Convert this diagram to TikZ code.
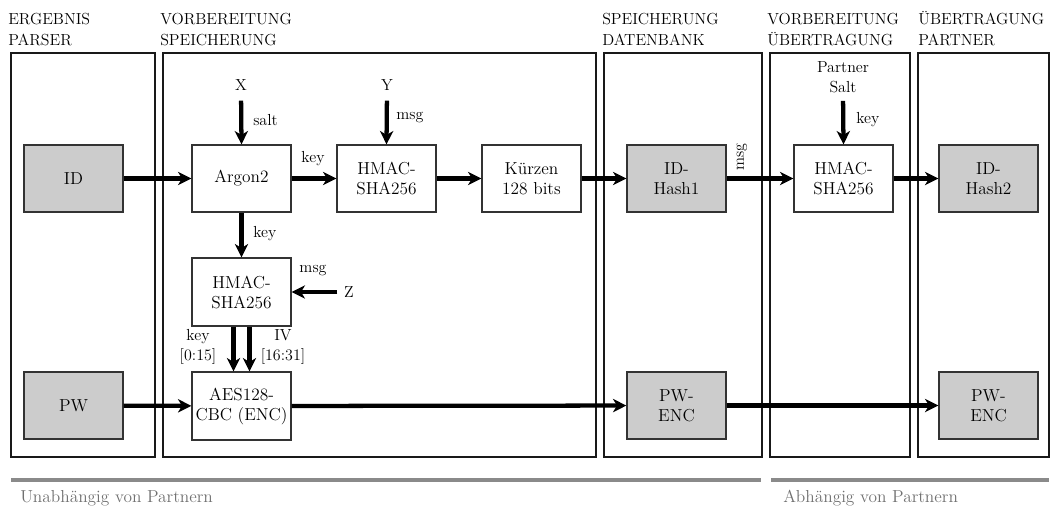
\documentclass[tikz,border=0pt]{standalone}
\usetikzlibrary{arrows.meta}
\definecolor{boxgray}{HTML}{CCCCCC}
\definecolor{edge}{HTML}{333333}
\definecolor{bargray}{HTML}{8A8A8A}
\definecolor{txtgray}{HTML}{707070}
\begin{document}
\begin{tikzpicture}[x=0.75pt,y=-0.75pt,
  hdr/.style={anchor=north west,inner sep=0pt,align=left,font=\fontsize{12}{15.75}\selectfont},
  panel/.style={draw=black!90,line width=1.3pt},
  box/.style={draw=edge,line width=1pt,fill=white,minimum width=74.25pt,minimum height=50.25pt,align=center,inner sep=0pt,font=\fontsize{13}{15}\selectfont},
  gbox/.style={box,fill=boxgray},
  lbl/.style={inner sep=0pt,font=\fontsize{12}{15}\selectfont,align=center},
  arr/.style={line width=3.2pt,-{Stealth[length=10pt,width=10pt,inset=3pt]}},
  bar/.style={line width=3pt,draw=bargray},
  foot/.style={anchor=base west,inner sep=0pt,text=txtgray,font=\fontsize{13}{15}\selectfont}]
\useasboundingbox (0,0) rectangle (1053,507);
% headers
\node[hdr] (h1) at (8,11.5) {\vphantom{Ü}ERGEBNIS\\PARSER};
\node[hdr] (h2) at (160,11.5) {\vphantom{Ü}VORBEREITUNG\\SPEICHERUNG};
\node[hdr] (h3) at (602,11.5) {\vphantom{Ü}SPEICHERUNG\\DATENBANK};
\node[hdr] (h4) at (767,11.5) {\vphantom{Ü}VORBEREITUNG\\ÜBERTRAGUNG};
\node[hdr] (h5) at (918,11.5) {\vphantom{Ü}ÜBERTRAGUNG\\PARTNER};
% panels
\draw[panel] (11,53) rectangle (155,457);
\draw[panel] (163,53) rectangle (596,457);
\draw[panel] (604,53) rectangle (762,457);
\draw[panel] (770,53) rectangle (910,457);
\draw[panel] (918,53) rectangle (1049,457);
% boxes
\node[gbox] (id) at (73.5,178.5) {ID};
\node[gbox] (pw) at (73.5,405.5) {PW};
\node[box] (argon) at (241.5,178.5) {Argon2};
\node[box] (hmac1) at (386.5,178.5) {HMAC-\\SHA256};
\node[box] (kurz) at (531.5,178.5) {Kürzen\\128 bits};
\node[box,minimum height=51pt] (hmac2) at (241.5,292) {HMAC-\\SHA256};
\node[box,minimum height=51pt] (aes) at (241.5,406) {AES128-\\CBC (ENC)};
\node[gbox] (idh1) at (676.5,178.5) {ID-\\Hash1};
\node[gbox] (pwe1) at (676.5,405.5) {PW-\\ENC};
\node[box] (hmac3) at (843.5,178.5) {HMAC-\\SHA256};
\node[gbox] (idh2) at (988.5,178.5) {ID-\\Hash2};
\node[gbox] (pwe2) at (988.5,405.5) {PW-\\ENC};
% inputs
\node[lbl] (X) at (241,85) {X};
\node[lbl] (Y) at (387,85) {Y};
\node[lbl] (Z) at (349,292) {Z};
\node[lbl] (ps) at (843,77) {Partner\\Salt};
% labels
\node[lbl,anchor=west] (lsalt) at (253,120) {salt};
\node[lbl,anchor=west] (lmsg1) at (396,118) {msg};
\node[lbl] (lkey1) at (313,159) {key};
\node[lbl,anchor=west] (lkey2) at (253,234) {key};
\node[lbl] (lmsg2) at (313,271) {msg};
\node[lbl] (lkey3) at (198,347) {key\\{}[0:15]};
\node[lbl] (liv) at (283,347) {IV\\{}[16:31]};
\node[lbl,rotate=90] (lmsg3) at (742,157) {msg};
\node[lbl,anchor=west] (lkey4) at (856,120) {key};
% arrows
\draw[arr] (id) -- (argon);
\draw[arr] (argon) -- (hmac1);
\draw[arr] (hmac1) -- (kurz);
\draw[arr] (kurz) -- (idh1);
\draw[arr] (idh1) -- (hmac3);
\draw[arr] (hmac3) -- (idh2);
\draw[arr,shorten <=7.5pt] (X.south) -- (argon.north);
\draw[arr,shorten <=7.5pt] (Y.south) -- (hmac1.north);
\draw[arr,shorten <=6pt] (ps.south) -- (hmac3.north);
\draw[arr] (argon.south) -- (hmac2.north);
\draw[arr,shorten <=5pt] (Z.west) -- (hmac2.east);
\draw[arr] ([xshift=-6pt]hmac2.south) -- ([xshift=-6pt]aes.north);
\draw[arr] ([xshift=6pt]hmac2.south) -- ([xshift=6pt]aes.north);
\draw[arr] (pw) -- (aes);
\draw[arr] (aes) -- (pwe1);
\draw[arr] (pwe1) -- (pwe2);
% bottom bars
\draw[bar] (11,480) -- (761,480);
\draw[bar] (771,480) -- (1049,480);
\node[foot] (f1) at (20,502) {Unabhängig von Partnern};
\node[foot] (f2) at (783,502) {Abhängig von Partnern};
\end{tikzpicture}
\end{document}
